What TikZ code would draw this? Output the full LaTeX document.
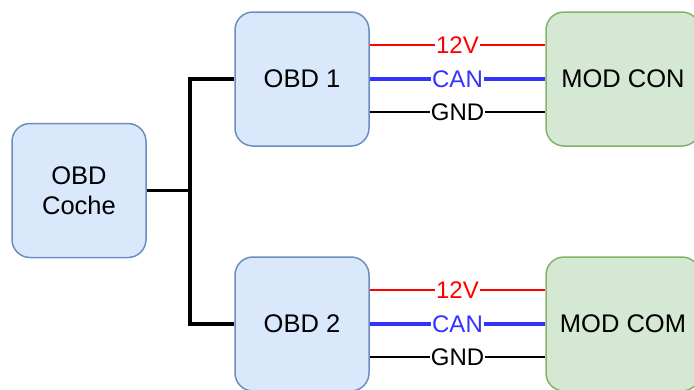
\documentclass[tikz,border=0pt]{standalone}
\usepackage{fontspec}
\setmainfont{Liberation Sans}
\definecolor{bfill}{HTML}{DAE8FC}
\definecolor{bdraw}{HTML}{6C8EBF}
\definecolor{gfill}{HTML}{D5E8D4}
\definecolor{gdraw}{HTML}{82B366}
\definecolor{canblue}{HTML}{3333FF}
\begin{document}
\begin{tikzpicture}[x=1pt,y=-1pt,
  box/.style={draw=bdraw,fill=bfill,line width=1.5pt,rounded corners=18pt,
    minimum width=134pt,minimum height=134pt,align=center,inner sep=0pt,
    font=\fontsize{25.5}{30}\selectfont},
  gbox/.style={box,draw=gdraw,fill=gfill,minimum width=154pt},
  bus/.style={line width=3.5pt},
  wire/.style={line width=1.5pt},
  lbl/.style={fill=white,inner sep=1pt,font=\fontsize{24}{26}\selectfont}
]
\useasboundingbox (0,0) rectangle (694,389);
\clip (0,0) rectangle (694,389);
\node[box] (coche) at (79,190.5) {OBD\\Coche};
\node[box] (obd1) at (302,79) {OBD 1};
\node[box] (obd2) at (302,324) {OBD 2};
\node[gbox] (mod1) at (623,79) {MOD CON};
\node[gbox] (mod2) at (623,324) {MOD COM};
\draw[bus] (coche.east) -- ++(43,0) coordinate (j);
\draw[bus,line join=miter] (obd1.west) -| (j) |- (obd2.west);
\foreach \a/\b in {obd1/mod1,obd2/mod2}{
  \draw[wire,red] ([yshift=34pt]\a.east) -- node[lbl,text=red]{12V} ([yshift=34pt]\b.west);
  \draw[bus,canblue] (\a.east) -- node[lbl,text=canblue]{CAN} (\b.west);
  \draw[wire,black] ([yshift=-33pt]\a.east) -- node[lbl]{GND} ([yshift=-33pt]\b.west);
}
\end{tikzpicture}
\end{document}
